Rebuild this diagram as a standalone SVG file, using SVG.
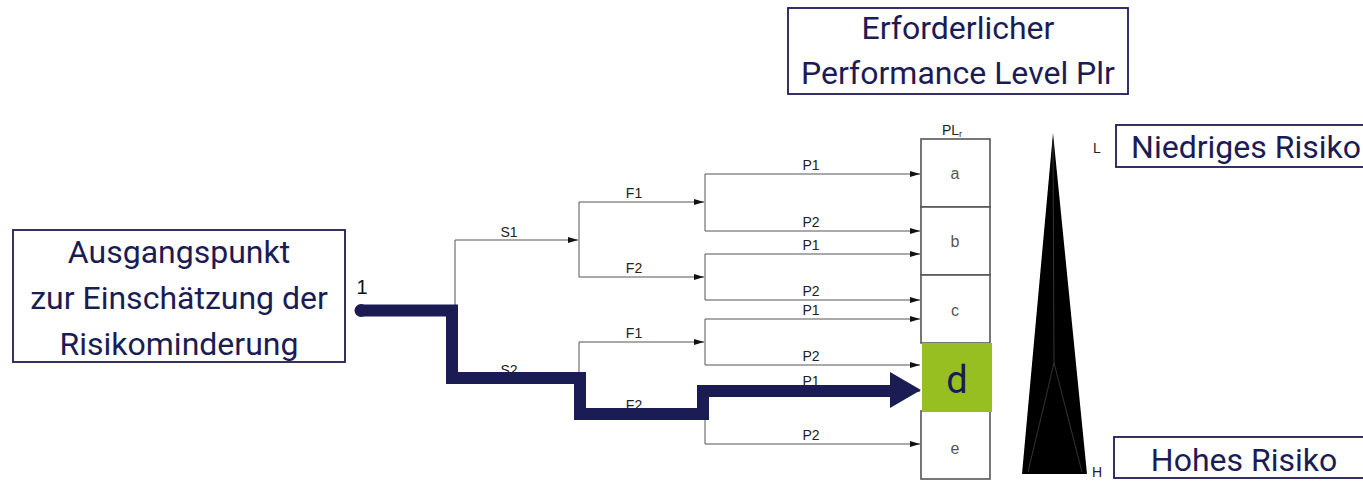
<svg xmlns="http://www.w3.org/2000/svg" width="1363" height="481" viewBox="0 0 1363 481">
<defs>
<style>
.box{fill:#fff;stroke:#1c1c54;stroke-width:1.8}
.big{font-family:Roboto,"Liberation Sans",sans-serif;font-size:32px;fill:#1c1c54;text-anchor:middle}
.thin{fill:none;stroke:#555;stroke-width:1}
.lbl{font-family:"Liberation Sans",Arial,sans-serif;font-size:14px;fill:#222;text-anchor:middle}
.cell{fill:#fff;stroke:#555;stroke-width:1.6}
.cl{font-family:"Liberation Sans",Arial,sans-serif;font-size:16px;fill:#555;text-anchor:middle}
.sm{font-family:"Liberation Sans",Arial,sans-serif;font-size:14px;fill:#222}
</style>
<marker id="ah" viewBox="0 0 10 6" refX="10" refY="3" markerWidth="10" markerHeight="6" markerUnits="userSpaceOnUse" orient="auto">
<path d="M0,0 L10,3 L0,6 Z" fill="#111"/>
</marker>
</defs>
<rect width="1363" height="481" fill="#fff"/>

<g id="start-node">
<rect class="box" x="13" y="230" width="332" height="132"/>
<text class="big" x="179" y="263">Ausgangspunkt</text>
<text class="big" x="179" y="309">zur Einschätzung der</text>
<text class="big" x="179" y="355">Risikominderung</text>
</g>

<g id="title-node">
<rect class="box" x="788" y="8" width="340" height="86"/>
<text class="big" x="958" y="39">Erforderlicher</text>
<text class="big" x="958" y="84">Performance Level Plr</text>
</g>

<g id="low-risk">
<rect class="box" x="1116" y="125" width="250" height="42"/>
<text class="big" x="1246" y="158">Niedriges Risiko</text>
<text class="sm" x="1093" y="153">L</text>
</g>

<g id="high-risk">
<rect class="box" x="1114" y="437" width="252" height="41"/>
<text class="big" x="1244" y="471">Hohes Risiko</text>
<text class="sm" x="1092" y="477">H</text>
</g>

<g id="risk-triangle">
<polygon points="1053,133 1087,474 1022,474" fill="#000"/>
<path d="M1053,140 L1054,363 M1054,363 L1028,472 M1054,363 L1082,472" fill="none" stroke="#333" stroke-width="1"/>
</g>

<g id="pl-column">
<text class="cl" x="952" y="135" style="fill:#222;font-size:14px">PL<tspan font-size="9" dy="2">r</tspan></text>
<rect class="cell" x="921" y="139" width="69" height="68"/>
<rect class="cell" x="921" y="207" width="69" height="68"/>
<rect class="cell" x="921" y="275" width="69" height="68"/>
<rect class="cell" x="921" y="411" width="69" height="68"/>
<rect x="922" y="343" width="70" height="69" fill="#97bf22"/>
<text class="cl" x="955" y="179">a</text>
<text class="cl" x="955" y="247">b</text>
<text class="cl" x="955" y="316">c</text>
<text class="cl" x="955" y="454">e</text>
<text x="957" y="393" font-family="Roboto,'Liberation Sans',sans-serif" font-size="38" fill="#1c1c54" text-anchor="middle">d</text>
</g>

<g id="connectors">
<path class="thin" d="M455,310 V240 H578" marker-end="url(#ah)"/>
<path class="thin" d="M455,310 V378 H578"/>
<path class="thin" d="M579,240 V202 H704" marker-end="url(#ah)"/>
<path class="thin" d="M579,240 V277 H704" marker-end="url(#ah)"/>
<path class="thin" d="M579,378 V342 H704" marker-end="url(#ah)"/>
<path class="thin" d="M579,378 V414 H704"/>
<path class="thin" d="M705,202 V174 H920" marker-end="url(#ah)"/>
<path class="thin" d="M705,202 V231 H920" marker-end="url(#ah)"/>
<path class="thin" d="M705,277 V254 H920" marker-end="url(#ah)"/>
<path class="thin" d="M705,277 V300 H920" marker-end="url(#ah)"/>
<path class="thin" d="M705,342 V319 H920" marker-end="url(#ah)"/>
<path class="thin" d="M705,342 V365 H920" marker-end="url(#ah)"/>
<path class="thin" d="M705,414 V391 H920" marker-end="url(#ah)"/>
<path class="thin" d="M705,414 V444 H920" marker-end="url(#ah)"/>
<text class="lbl" x="509" y="237">S1</text>
<text class="lbl" x="509" y="375">S2</text>
<text class="lbl" x="634" y="198">F1</text>
<text class="lbl" x="634" y="273">F2</text>
<text class="lbl" x="634" y="338">F1</text>
<text class="lbl" x="634" y="410">F2</text>
<text class="lbl" x="811" y="170">P1</text>
<text class="lbl" x="811" y="227">P2</text>
<text class="lbl" x="811" y="250">P1</text>
<text class="lbl" x="811" y="296">P2</text>
<text class="lbl" x="811" y="315">P1</text>
<text class="lbl" x="811" y="361">P2</text>
<text class="lbl" x="811" y="386">P1</text>
<text class="lbl" x="811" y="440">P2</text>
<text x="362" y="294" font-family="'Liberation Sans',Arial,sans-serif" font-size="20" fill="#111" text-anchor="middle">1</text>
<path d="M362,310.5 H452 V378 H580 V414 H703 V391 H892" fill="none" stroke="#1c1c54" stroke-width="12" stroke-linejoin="miter"/>
<polygon points="890,372 921,390 890,408" fill="#1c1c54"/>
<circle cx="361" cy="310.5" r="6.5" fill="#1c1c54"/>
</g>
</svg>
